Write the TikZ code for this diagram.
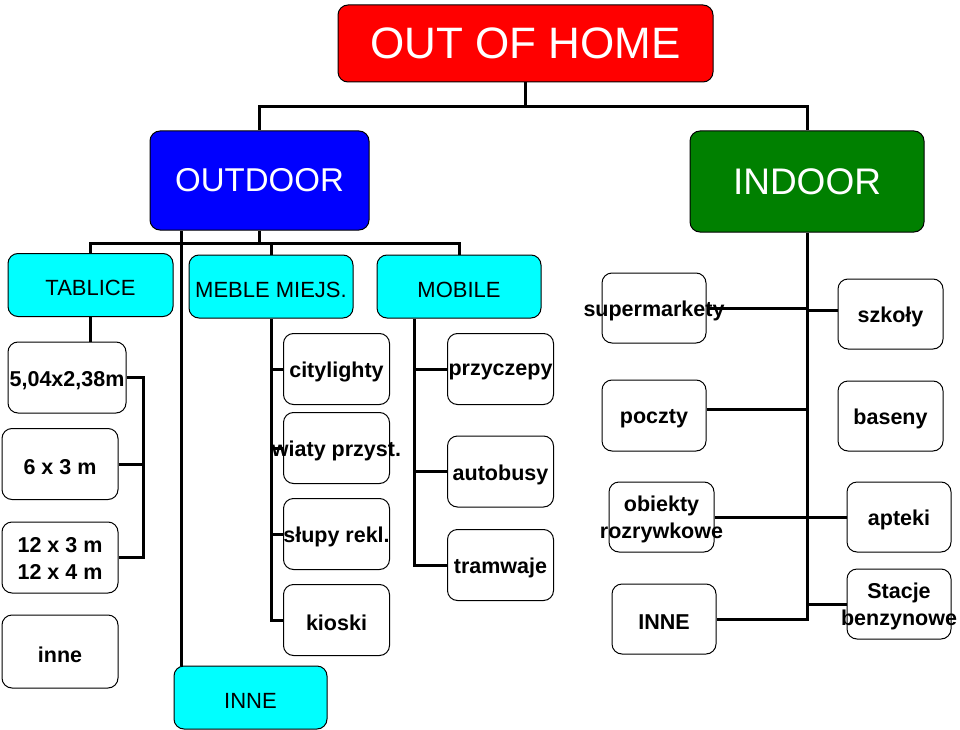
\documentclass[tikz,border=0pt]{standalone}
\usepackage{fontspec}
\setmainfont{Liberation Sans}
\usetikzlibrary{backgrounds}
\definecolor{indoorgreen}{RGB}{0,128,0}
\definecolor{catcyan}{RGB}{0,255,255}
\newcommand{\lbl}[1]{\makebox[0pt]{\raisebox{-3pt}[\height][\depth]{#1}}}
\newcommand{\twolbl}[2]{\makebox[0pt]{\raisebox{-3pt}[\height][\depth]{\begin{tabular}{@{}c@{}}#1\\#2\end{tabular}}}}

\begin{document}
\begin{tikzpicture}[x=1pt,y=-1pt,
    box/.style={draw, rounded corners=10pt, line width=1pt, fill=white, inner sep=0pt,
      font=\fontsize{21.5}{27}\selectfont\bfseries},
    leaf/.style={box, minimum width=106pt, minimum height=71pt},
    cat/.style={box, fill=catcyan, minimum height=63pt, font=\fontsize{22}{27}\selectfont},
    big/.style={box, text=white, font=\fontsize{33}{40}\selectfont},
    link/.style={line width=3pt}]
      \useasboundingbox (0,0) rectangle (960,730);

      % OUT OF HOME
      \node (ooh) at (525.5,43.5) [big, fill=red, minimum width=375pt, minimum height=77pt,
        font=\fontsize{44}{48}\selectfont] {OUT OF HOME};
      \node (outdoor) at (259.5,180.5) [big, fill=blue, minimum width=219pt, minimum height=99pt] {OUTDOOR};
      \node (indoor) at (807,181.5) [big, fill=indoorgreen, minimum width=234pt, minimum height=101pt,
        font=\fontsize{37}{40}\selectfont] {INDOOR};

      % OUTDOOR
      \node (tablice) at (90.5,285) [cat, minimum width=165pt] {\lbl{TABLICE}};
      \node (meble) at (271,286.5) [cat, minimum width=164pt] {\lbl{MEBLE MIEJS.}};
      \node (mobile) at (459,286.5) [cat, minimum width=164pt] {\lbl{MOBILE}};
      \node (inneout) at (250.5,697.5) [cat, minimum width=153pt] {\lbl{INNE}};

      \node (s504) at (67,377.5) [leaf, minimum width=118pt] {\lbl{5,04x2,38m}};
      \node (s63) at (60,464) [leaf, minimum width=116pt] {\lbl{6 x 3 m}};
      \node (s123) at (60,557.5) [leaf, minimum width=116pt] {\twolbl{12 x 3 m}{12 x 4 m}};
      \node (inne) at (60,651.5) [leaf, minimum width=116pt, minimum height=73pt] {\lbl{inne}};

      \node (city) at (336.5,369) [leaf] {\lbl{citylighty}};
      \node (wiaty) at (336.5,448) [leaf] {\lbl{wiaty przyst.}};
      \node (slupy) at (336.5,534) [leaf] {\lbl{słupy rekl.}};
      \node (kioski) at (336.5,620) [leaf] {\lbl{kioski}};

      \node (przyczepy) at (500.5,369) [leaf] {\lbl{przyczepy}};
      \node (autobusy) at (500.5,471.5) [leaf] {\lbl{autobusy}};
      \node (tramwaje) at (500.5,565) [leaf] {\lbl{tramwaje}};

      % INDOOR
      \node (supermarkety) at (654,308) [leaf, minimum width=104pt, minimum height=70pt] {\lbl{supermarkety}};
      \node (szkoly) at (890.5,314) [leaf, minimum width=105pt, minimum height=70pt] {\lbl{szkoły}};
      \node (poczty) at (654,415.5) [leaf, minimum width=104pt] {\lbl{poczty}};
      \node (baseny) at (890.5,416) [leaf, minimum width=105pt, minimum height=70pt] {\lbl{baseny}};
      \node (obiekty) at (661.5,517) [leaf, minimum width=105pt, minimum height=70pt] {\twolbl{obiekty}{rozrywkowe}};
      \node (apteki) at (899,517) [leaf, minimum width=104pt, minimum height=70pt] {\lbl{apteki}};
      \node (stacje) at (899,604) [leaf, minimum width=104pt, minimum height=70pt] {\twolbl{Stacje}{benzynowe}};
      \node (innein) at (664,619) [leaf, minimum width=104pt, minimum height=70pt] {\lbl{INNE}};

      \begin{pgfonlayer}{background}
      \coordinate (j0) at (525.5,107);
      \draw[link] (ooh.south) -- (j0);
      \draw[link] (outdoor.north) |- (j0) -| (indoor.north);

      \coordinate (j1) at (259.5,243);
      \draw[link] (outdoor.south) -- (j1);
      \draw[link] (tablice.north) |- (j1) -| (mobile.north);
      \draw[link] (meble.north) -- (meble.north |- j1);
      \draw[link] ([xshift=8pt]inneout.north west) -- ([xshift=8pt]inneout.north west |- outdoor.south);

      % TABLICE
      \coordinate (t1) at (143,376);
      \draw[link] (tablice.south) -- (tablice.south |- s504.north);
      \draw[link] (s504.east) -| (t1 |- s123.east) -- (s123.east);
      \draw[link] (s63.east) -- (s63.east -| t1);

      % MEBLE MIEJS.
      \draw[link] (meble.south) |- (kioski.west);
      \foreach \n in {city, wiaty, slupy}
        \draw[link] (\n.west) -- (\n.west -| meble.south);

      % MOBILE
      \coordinate (m1) at ([xshift=38pt]mobile.south west);
      \draw[link] (m1) |- (tramwaje.west);
      \foreach \n in {przyczepy, autobusy}
        \draw[link] (\n.west) -- (\n.west -| m1);

      % INDOOR
      \draw[link] (indoor.south) |- (innein.east);
      \draw[link] (supermarkety.east) -- (supermarkety.east -| indoor.south);
      \draw[link] ([yshift=4pt]szkoly.west) -- ([yshift=4pt]szkoly.west -| indoor.south);
      \draw[link] ([yshift=6.5pt]poczty.east) -- ([yshift=6.5pt]poczty.east -| indoor.south);
      \draw[link] (obiekty.east) -- (apteki.west);
      \draw[link] (stacje.west) -- (stacje.west -| indoor.south);
      \end{pgfonlayer}
\end{tikzpicture}
\end{document}
